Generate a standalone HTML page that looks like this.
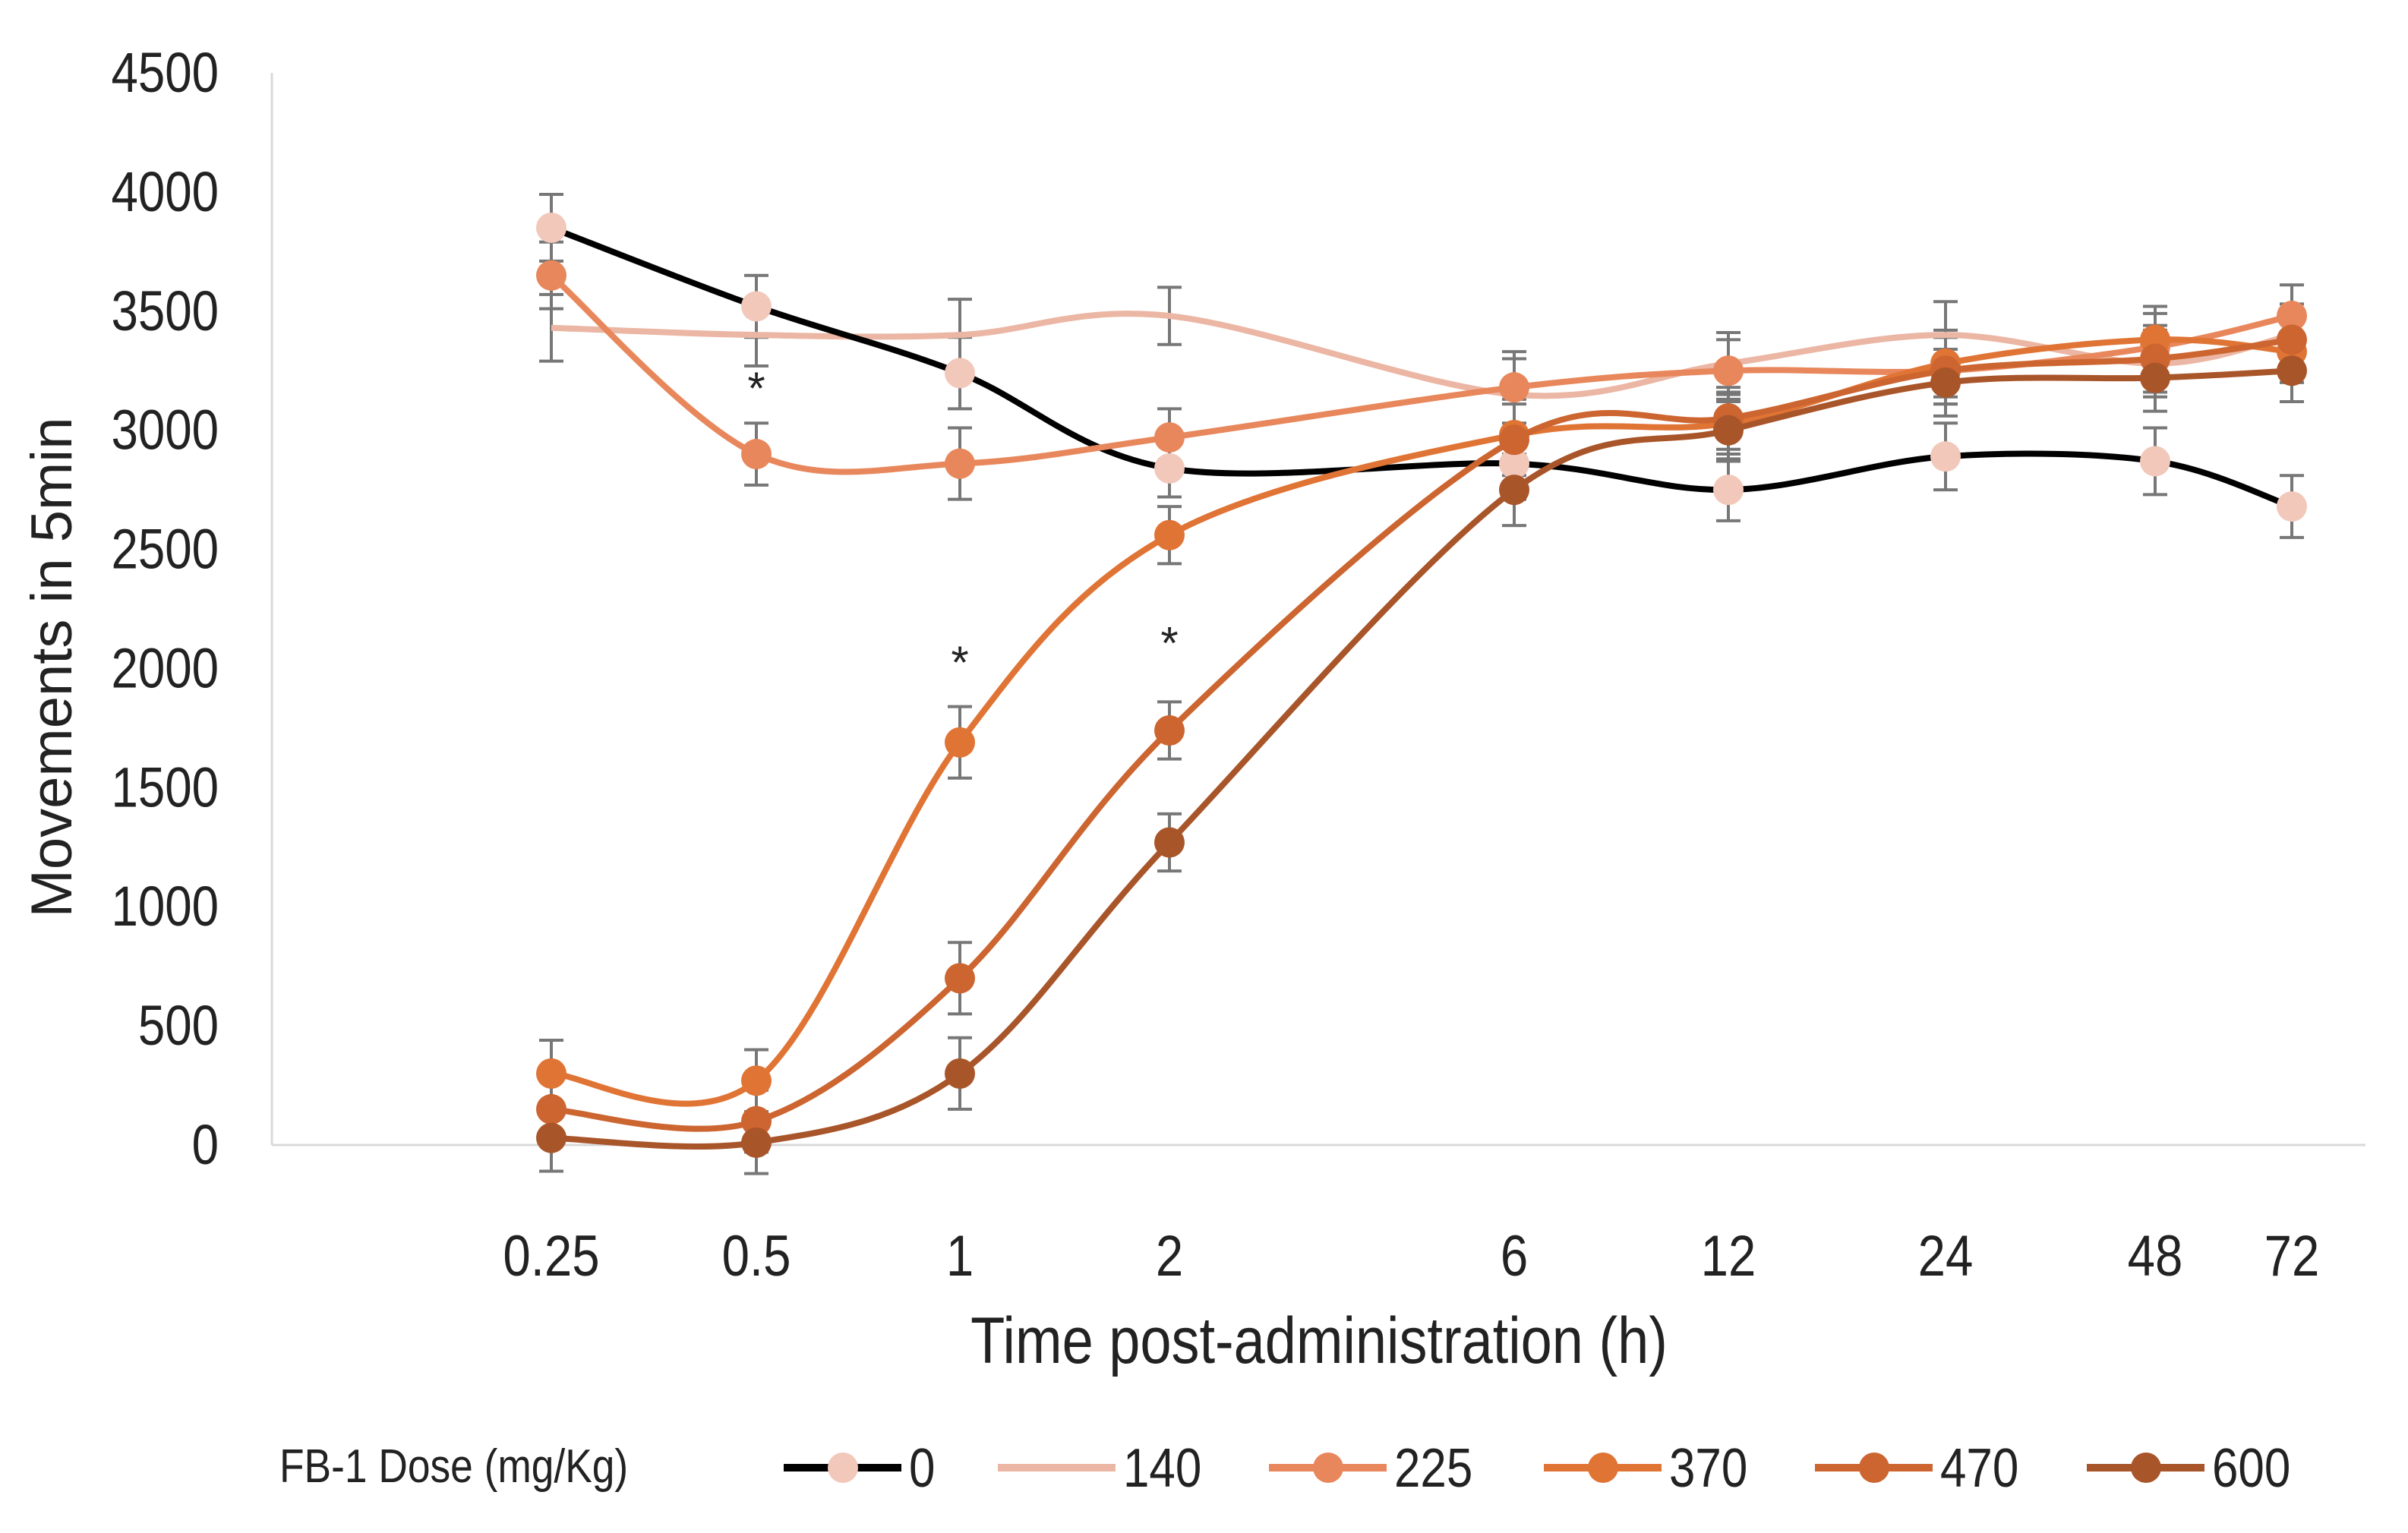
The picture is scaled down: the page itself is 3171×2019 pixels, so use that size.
<!DOCTYPE html>
<html><head><meta charset="utf-8"><style>
html,body{margin:0;padding:0;background:#fff;}
svg{display:block;font-family:"Liberation Sans",sans-serif;}
</style></head><body>
<svg id="chart" width="3171" height="2019" viewBox="0 0 3171 2019" xmlns="http://www.w3.org/2000/svg">
<rect width="3171" height="2019" fill="#fff"/>
<g id="axes"></g>
<g id="series"></g>
<g id="legend"></g>
</svg>
<script>
const categories = ["0.25","0.5","1","2","6","12","24","48","72"];
const yTicks = [0,500,1000,1500,2000,2500,3000,3500,4000,4500];
const seriesNames = ["0","140","225","370","470","600"];
const s0 = [3850,3520,3240,2840,2860,2750,2890,2870,2680];
const s140 = [3430,3400,3400,3480,3150,3280,3400,3280,3400];
const s225 = [3650,2900,2860,2970,3180,3250,3250,3350,3480];
const s370 = [300,270,1690,2560,2980,3030,3280,3380,3330];
const s470 = [150,100,700,1740,2960,3050,3250,3300,3380];
const s600 = [30,10,300,1270,2750,3000,3200,3220,3250];
const errs = [140,130,150,120,150,130,140,140,130];
const stars = [[1,3200],[2,2050],[3,2130]];

const NS="http://www.w3.org/2000/svg";
const xPos=[726,996,1264,1540,1994,2276,2562,2838,3018];
const y0=1508, yTop=96, yMax=4500;
function X(i){return xPos[i];}
function Y(v){return y0-(v/yMax)*(y0-yTop);}
function mk(tag,attrs,parent){const e=document.createElementNS(NS,tag);for(const k in attrs)e.setAttribute(k,attrs[k]);parent.appendChild(e);return e;}
const axes=document.getElementById('axes'), sg=document.getElementById('series'), lg=document.getElementById('legend');

let yl=mk('line',{x1:358,y1:96,x2:358,y2:y0,stroke:'#d9d9d9','stroke-width':3},axes);

let xl=mk('line',{x1:358,y1:y0,x2:3115,y2:y0,stroke:'#d9d9d9','stroke-width':3},axes);

yTicks.forEach(t=>{
  const e=mk('text',{x:288,y:Y(t)+25,'text-anchor':'end','font-size':74,fill:'#222',transform:`translate(288,0) scale(0.86,1) translate(-288,0)`},axes);
  e.textContent=t;
  
  
});
categories.forEach((c,i)=>{
  const e=mk('text',{x:X(i),y:1680,'text-anchor':'middle','font-size':76,fill:'#222',transform:`translate(${X(i)},0) scale(0.86,1) translate(${-X(i)},0)`},axes);
  e.textContent=c;
  
  
});
let xt=mk('text',{x:1737,y:1795,'text-anchor':'middle','font-size':86,fill:'#222',transform:'translate(1737,0) scale(0.86,1) translate(-1737,0)'},axes);
xt.textContent='Time post-administration (h)';

let ytt=mk('text',{x:0,y:0,'text-anchor':'middle','font-size':76,fill:'#222',transform:'translate(94,879) rotate(-90)'},axes);
ytt.textContent='Movements in 5min';


function pathFor(vals){
  const p=vals.map((v,i)=>[X(i),Y(v)]);
  let d=`M${p[0][0]},${p[0][1]}`;
  for(let i=0;i<p.length-1;i++){
    const a=p[i-1]||p[i],b=p[i],c=p[i+1],e=p[i+2]||c;
    const t=0.5/3;
    d+=` C${b[0]+(c[0]-a[0])*t},${b[1]+(c[1]-a[1])*t} ${c[0]-(e[0]-b[0])*t},${c[1]-(e[1]-b[1])*t} ${c[0]},${c[1]}`;
  }
  return d;
}
const seriesData=[s0,s140,s225,s370,s470,s600];
const lineCol=['#000','#ebb6a3','#e8875c','#e07435','#cc6530','#a9552a'];
const mkCol=['#f2c8ba',null,'#e8875c','#e07435','#cc6530','#a9552a'];
[1,0,2,3,4,5].forEach(si=>{
  const vals=seriesData[si];
  vals.forEach((v,i)=>{
    const g=mk('g',{stroke:'#777','stroke-width':4},sg);
    
    
    mk('line',{x1:X(i),y1:Y(v+errs[i]),x2:X(i),y2:Y(v-errs[i])},g);
    mk('line',{x1:X(i)-16,y1:Y(v+errs[i]),x2:X(i)+16,y2:Y(v+errs[i])},g);
    mk('line',{x1:X(i)-16,y1:Y(v-errs[i]),x2:X(i)+16,y2:Y(v-errs[i])},g);
  });
});
[1,0,2,3,4,5].forEach(si=>{
  const vals=seriesData[si];
  const l=mk('path',{d:pathFor(vals),fill:'none',stroke:lineCol[si],'stroke-width':8},sg);
  
  
  if(mkCol[si]) vals.forEach((v,i)=>{
    const c=mk('circle',{cx:X(i),cy:Y(v),r:20,fill:mkCol[si]},sg);
    
    
  });
});
stars.forEach(s=>{
  const e=mk('text',{x:X(s[0]),y:Y(s[1])+28,'text-anchor':'middle','font-size':60,fill:'#222'},sg);
  e.textContent='*';
  
  
});
let lt=mk('text',{x:368,y:1952,'font-size':62,fill:'#222',transform:'translate(368,0) scale(0.86,1) translate(-368,0)'},lg);
lt.textContent='FB-1 Dose  (mg/Kg)';

const legX=[1032,1314,1671,2033,2390,2748];
seriesNames.forEach((n,si)=>{
  const g=mk('g',{},lg);
  
  
  const x=legX[si], y=1933;
  mk('line',{x1:x,y1:y,x2:x+155,y2:y,stroke:lineCol[si],'stroke-width':10},g);
  if(mkCol[si]) mk('circle',{cx:x+78,cy:y,r:20,fill:mkCol[si]},g);
  const t=mk('text',{x:x+165,y:y+25,'font-size':72,fill:'#222',transform:`translate(${x+165},0) scale(0.86,1) translate(${-(x+165)},0)`},g);
  t.textContent=n;
});
</script>
</body></html>
